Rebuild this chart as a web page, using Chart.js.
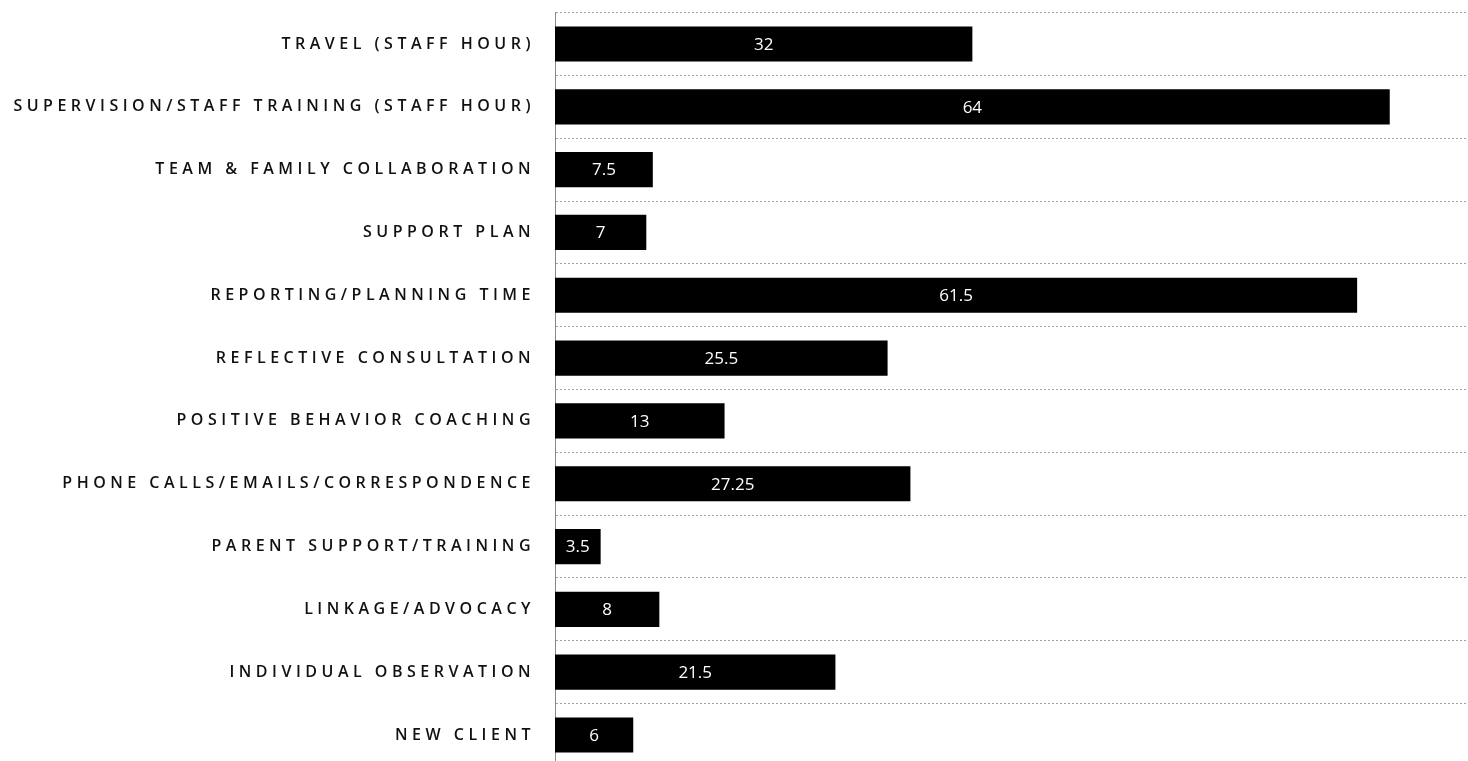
<!DOCTYPE html>
<html>
<head>
<meta charset="utf-8">
<script src="https://cdn.jsdelivr.net/npm/chart.js@4"></script>
<style>
  html, body { margin: 0; padding: 0; background: #fff; overflow: hidden; }
  #frame { width: 1468px; height: 761px; position: relative; overflow: hidden; }
  #wrap { width: 1468px; height: 813px; position: absolute; left: 0; top: -17px; }
</style>
</head>
<body>
<div id="frame"><div id="wrap"><canvas id="hours-chart"></canvas></div></div>
<script>
const categories = [
    'TRAVEL (STAFF HOUR)',
    'SUPERVISION/STAFF TRAINING (STAFF HOUR)',
    'TEAM & FAMILY COLLABORATION',
    'SUPPORT PLAN',
    'REPORTING/PLANNING TIME',
    'REFLECTIVE CONSULTATION',
    'POSITIVE BEHAVIOR COACHING',
    'PHONE CALLS/EMAILS/CORRESPONDENCE',
    'PARENT SUPPORT/TRAINING',
    'LINKAGE/ADVOCACY',
    'INDIVIDUAL OBSERVATION',
    'NEW CLIENT'
];
const hours = [32, 64, 7.5, 7, 61.5, 25.5, 13, 27.25, 3.5, 8, 21.5, 6];
const axisMax = 70;

// wide tracking on the category labels, then the values inside the bars
const spacingPlugin = {
    id: 'spacing',
    beforeDraw(chart) {
        chart.ctx.letterSpacing = '4.5px';
    },
    afterDatasetsDraw(chart) {
        const ctx = chart.ctx;
        ctx.letterSpacing = '0px';
        const meta = chart.getDatasetMeta(0);
        ctx.save();
        ctx.fillStyle = '#fff';
        ctx.font = '17px "Open Sans"';
        ctx.textAlign = 'center';
        ctx.textBaseline = 'middle';
        meta.data.forEach((bar, i) => {
            const x = (bar.base + bar.x) / 2;
            ctx.fillText(String(hours[i]), x, bar.y + 1);
        });
        ctx.restore();
    }
};

new Chart(document.getElementById('hours-chart'), {
    type: 'bar',
    data: {
        labels: categories,
        datasets: [{
            data: hours,
            backgroundColor: '#000',
            borderWidth: 0,
            barPercentage: 0.56,
            categoryPercentage: 1
        }]
    },
    options: {
        indexAxis: 'y',
        responsive: true,
        maintainAspectRatio: false,
        animation: false,
        layout: { padding: { top: 12, right: 0, bottom: 0, left: 0 } },
        plugins: {
            legend: { display: false },
            tooltip: { enabled: false }
        },
        scales: {
            x: {
                display: false,
                min: 0,
                max: axisMax
            },
            y: {
                afterFit(scale) { scale.width = 555; },
                border: { display: true, color: '#888', dash: [2, 2] },
                grid: {
                    color: '#a0a0a0',
                    lineWidth: 1,
                    drawTicks: false
                },
                ticks: {
                    color: '#111',
                    padding: 20,
                    font: { family: '"Open Sans"', size: 16, weight: '600' }
                }
            }
        }
    },
    plugins: [spacingPlugin]
});
</script>
</body>
</html>
